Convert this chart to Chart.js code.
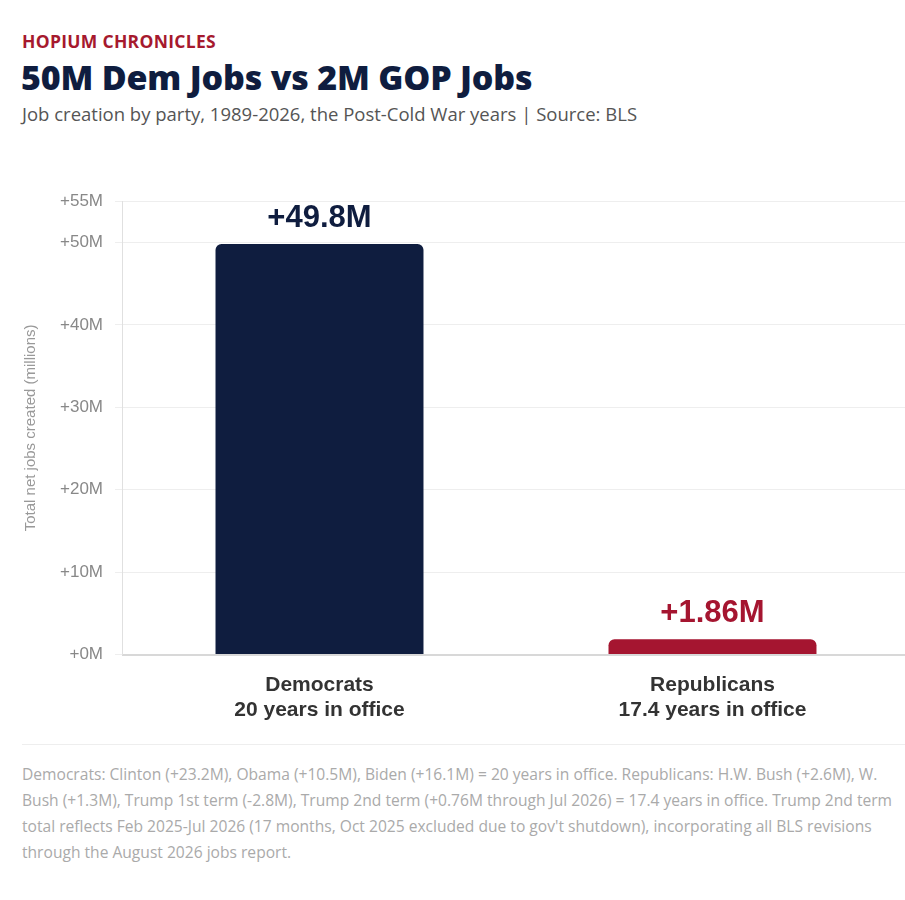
<!DOCTYPE html>
<html>
<head>
<meta charset="utf-8">
<script src="https://cdn.jsdelivr.net/npm/chart.js@4"></script>
<style>
  body { margin: 0; background: #fff; font-family: "Open Sans", "Noto Sans", sans-serif; overflow: hidden; }
  .wrap { position: relative; width: 905px; height: 900px; overflow: hidden; }
  .kicker { position: absolute; left: 22px; top: 29px; font-size: 17.5px; font-weight: 700; color: #a6192e; letter-spacing: 0.3px; }
  .title { position: absolute; left: 21px; top: 54px; font-size: 34px; font-weight: 800; color: #0f1d3f; letter-spacing: -0.2px; }
  .sub { position: absolute; left: 22px; top: 101px; font-size: 18.5px; color: #555; }
  .chart { position: absolute; left: 18px; top: 179px; width: 891px; height: 554px; }
  .rule { position: absolute; left: 22px; right: 0; top: 744px; border-top: 1px solid #eee; }
  .note { position: absolute; left: 22px; top: 761px; width: 883px; font-size: 15.6px; line-height: 26px; color: #aaa; }
</style>
</head>
<body>
<div class="wrap">
  <div class="kicker">HOPIUM CHRONICLES</div>
  <div class="title">50M Dem Jobs vs 2M GOP Jobs</div>
  <div class="sub">Job creation by party, 1989-2026, the Post-Cold War years | Source: BLS</div>
  <div class="chart"><canvas id="myChart"></canvas></div>
  <div class="rule"></div>
  <div class="note">Democrats: Clinton (+23.2M), Obama (+10.5M), Biden (+16.1M) = 20 years in office. Republicans: H.W. Bush (+2.6M), W. Bush (+1.3M), Trump 1st term (-2.8M), Trump 2nd term (+0.76M through Jul 2026) = 17.4 years in office. Trump 2nd term total reflects Feb 2025-Jul 2026 (17 months, Oct 2025 excluded due to gov't shutdown), incorporating all BLS revisions through the August 2026 jobs report.</div>
</div>
<script>
const parties = ['Democrats', 'Republicans'];
const yearsLabels = ['20 years in office', '17.4 years in office'];
const jobsMillions = [49.8, 1.86];
const valueLabels = ['+49.8M', '+1.86M'];
const barColors = ['#0f1d3f', '#a51530'];

// draws the big value text above each bar
const valueLabelPlugin = {
  id: 'valueLabels',
  afterDatasetsDraw(chart) {
    const ctx = chart.ctx;
    const meta = chart.getDatasetMeta(0);
    ctx.save();
    ctx.font = 'bold 31px "Liberation Sans", Arial, sans-serif';
    ctx.textAlign = 'center';
    ctx.textBaseline = 'alphabetic';
    meta.data.forEach((bar, i) => {
      ctx.fillStyle = barColors[i];
      ctx.fillText(valueLabels[i], bar.x, bar.y - 17);
    });
    ctx.restore();
  }
};

const ctx = document.getElementById('myChart').getContext('2d');

new Chart(ctx, {
  type: 'bar',
  data: {
    labels: parties.map((p, i) => [p, yearsLabels[i]]),
    datasets: [{
      label: 'Net jobs',
      data: jobsMillions,
      backgroundColor: barColors,
      borderRadius: { topLeft: 6, topRight: 6 },
      borderSkipped: 'bottom',
      barPercentage: 0.6,
      categoryPercentage: 0.882
    }]
  },
  options: {
    responsive: true,
    maintainAspectRatio: false,
    animation: false,
    layout: { padding: 0 },
    plugins: {
      legend: { display: false },
      tooltip: { enabled: false }
    },
    scales: {
      x: {
        grid: { display: false },
        border: { color: '#d8d8d8', width: 2 },
        ticks: {
          color: '#333',
          font: { family: '"Liberation Sans", Arial, sans-serif', size: 21, weight: 'bold', lineHeight: 1.2 },
          padding: 10
        }
      },
      y: {
        min: 0,
        max: 55,
        ticks: {
          stepSize: 10,
          color: '#888',
          padding: 12,
          font: { family: '"Liberation Sans", Arial, sans-serif', size: 17 },
          callback: v => '+' + v + 'M'
        },
        grid: { color: '#eeeeee' },
        border: { color: '#e0e0e0' },
        title: {
          display: true,
          text: 'Total net jobs created (millions)',
          color: '#999',
          padding: { top: 4, bottom: 8 },
          font: { family: '"Liberation Sans", Arial, sans-serif', size: 15 }
        }
      }
    }
  },
  plugins: [valueLabelPlugin]
});
</script>
</body>
</html>
